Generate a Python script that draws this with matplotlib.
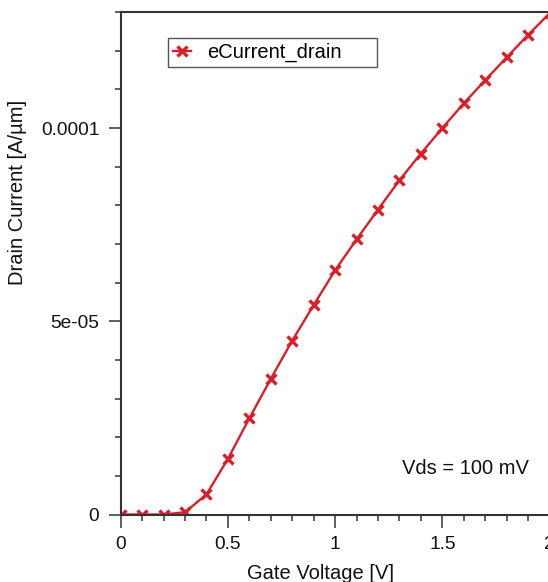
import numpy as np
import matplotlib
matplotlib.use("Agg")
import matplotlib.pyplot as plt
from matplotlib.ticker import FixedLocator, MultipleLocator

plt.rcParams['font.family'] = ['Liberation Sans', 'DejaVu Sans']

# gate voltage sweep [V] and drain current [A/um]
gate_voltage = [0.0, 0.1, 0.2, 0.3, 0.4, 0.5, 0.6, 0.7, 0.8, 0.9, 1.0,
                1.1, 1.2, 1.3, 1.4, 1.5, 1.6, 1.7, 1.8, 1.9, 2.0]
drain_current = [0.0, 0.0, 0.0, 6e-7, 5.2e-6, 1.44e-5, 2.49e-5, 3.51e-5, 4.50e-5,
                 5.42e-5, 6.32e-5, 7.12e-5, 7.89e-5, 8.65e-5, 9.34e-5, 1.0e-4,
                 1.064e-4, 1.124e-4, 1.183e-4, 1.241e-4, 1.297e-4]

x_ticks = [0, 0.5, 1, 1.5, 2]
x_labels = ['0', '0.5', '1', '1.5', '2']
y_ticks = [0, 5e-5, 1e-4]
y_labels = ['0', '5e-05', '0.0001']

W, H = 548, 582
fig = plt.figure(figsize=(W / 100, H / 100), dpi=100)
ax = fig.add_axes([120.7 / W, (H - 514.5) / H, 428.8 / W, 502.3 / H])

red = '#d9202a'
ax.plot(gate_voltage, drain_current, color=red, lw=1.7, marker='x',
        markersize=7.2, markeredgewidth=2.4, label='eCurrent_drain')

ax.set_xlim(0, 2)
ax.set_ylim(0, 1.3e-4)
ax.xaxis.set_major_locator(FixedLocator(x_ticks))
ax.set_xticklabels(x_labels)
ax.xaxis.set_minor_locator(MultipleLocator(0.1))
ax.yaxis.set_major_locator(FixedLocator(y_ticks))
ax.set_yticklabels(y_labels)
ax.yaxis.set_minor_locator(MultipleLocator(1e-5))

ax.tick_params(which='major', direction='out', length=9, width=1.1,
               color='#333333', labelsize=13.8, pad=6.5, labelcolor='#111111')
ax.tick_params(which='minor', direction='out', length=4.5, width=1.1,
               color='#333333')
ax.tick_params(top=False, right=False, which='both')

for side in ['left', 'bottom', 'top']:
    ax.spines[side].set_color('#333333')
    ax.spines[side].set_linewidth(1.5)
ax.spines['right'].set_visible(False)

ax.set_xlabel('Gate Voltage [V]', fontsize=14.5, color='#111111')
ax.set_ylabel('Drain Current [A/µm]', fontsize=14.5, color='#111111')
ax.xaxis.set_label_coords(0.465, -0.099)
ax.yaxis.set_label_coords(-0.218, 0.642)

ax.text(1.311, 1.2e-5, 'Vds = 100 mV', fontsize=14.5, ha='left', va='center',
        color='#111111')

leg = ax.legend(loc='upper left', bbox_to_anchor=(0.1103, 0.8486, 0.4874, 0.1),
                mode='expand', borderaxespad=0, fontsize=14.5, frameon=True,
                fancybox=False, framealpha=1, edgecolor='#555555',
                borderpad=0.25, handlelength=0.9, handletextpad=0.8)
leg.get_frame().set_linewidth(1.0)

fig.savefig('out.png', dpi=100)
